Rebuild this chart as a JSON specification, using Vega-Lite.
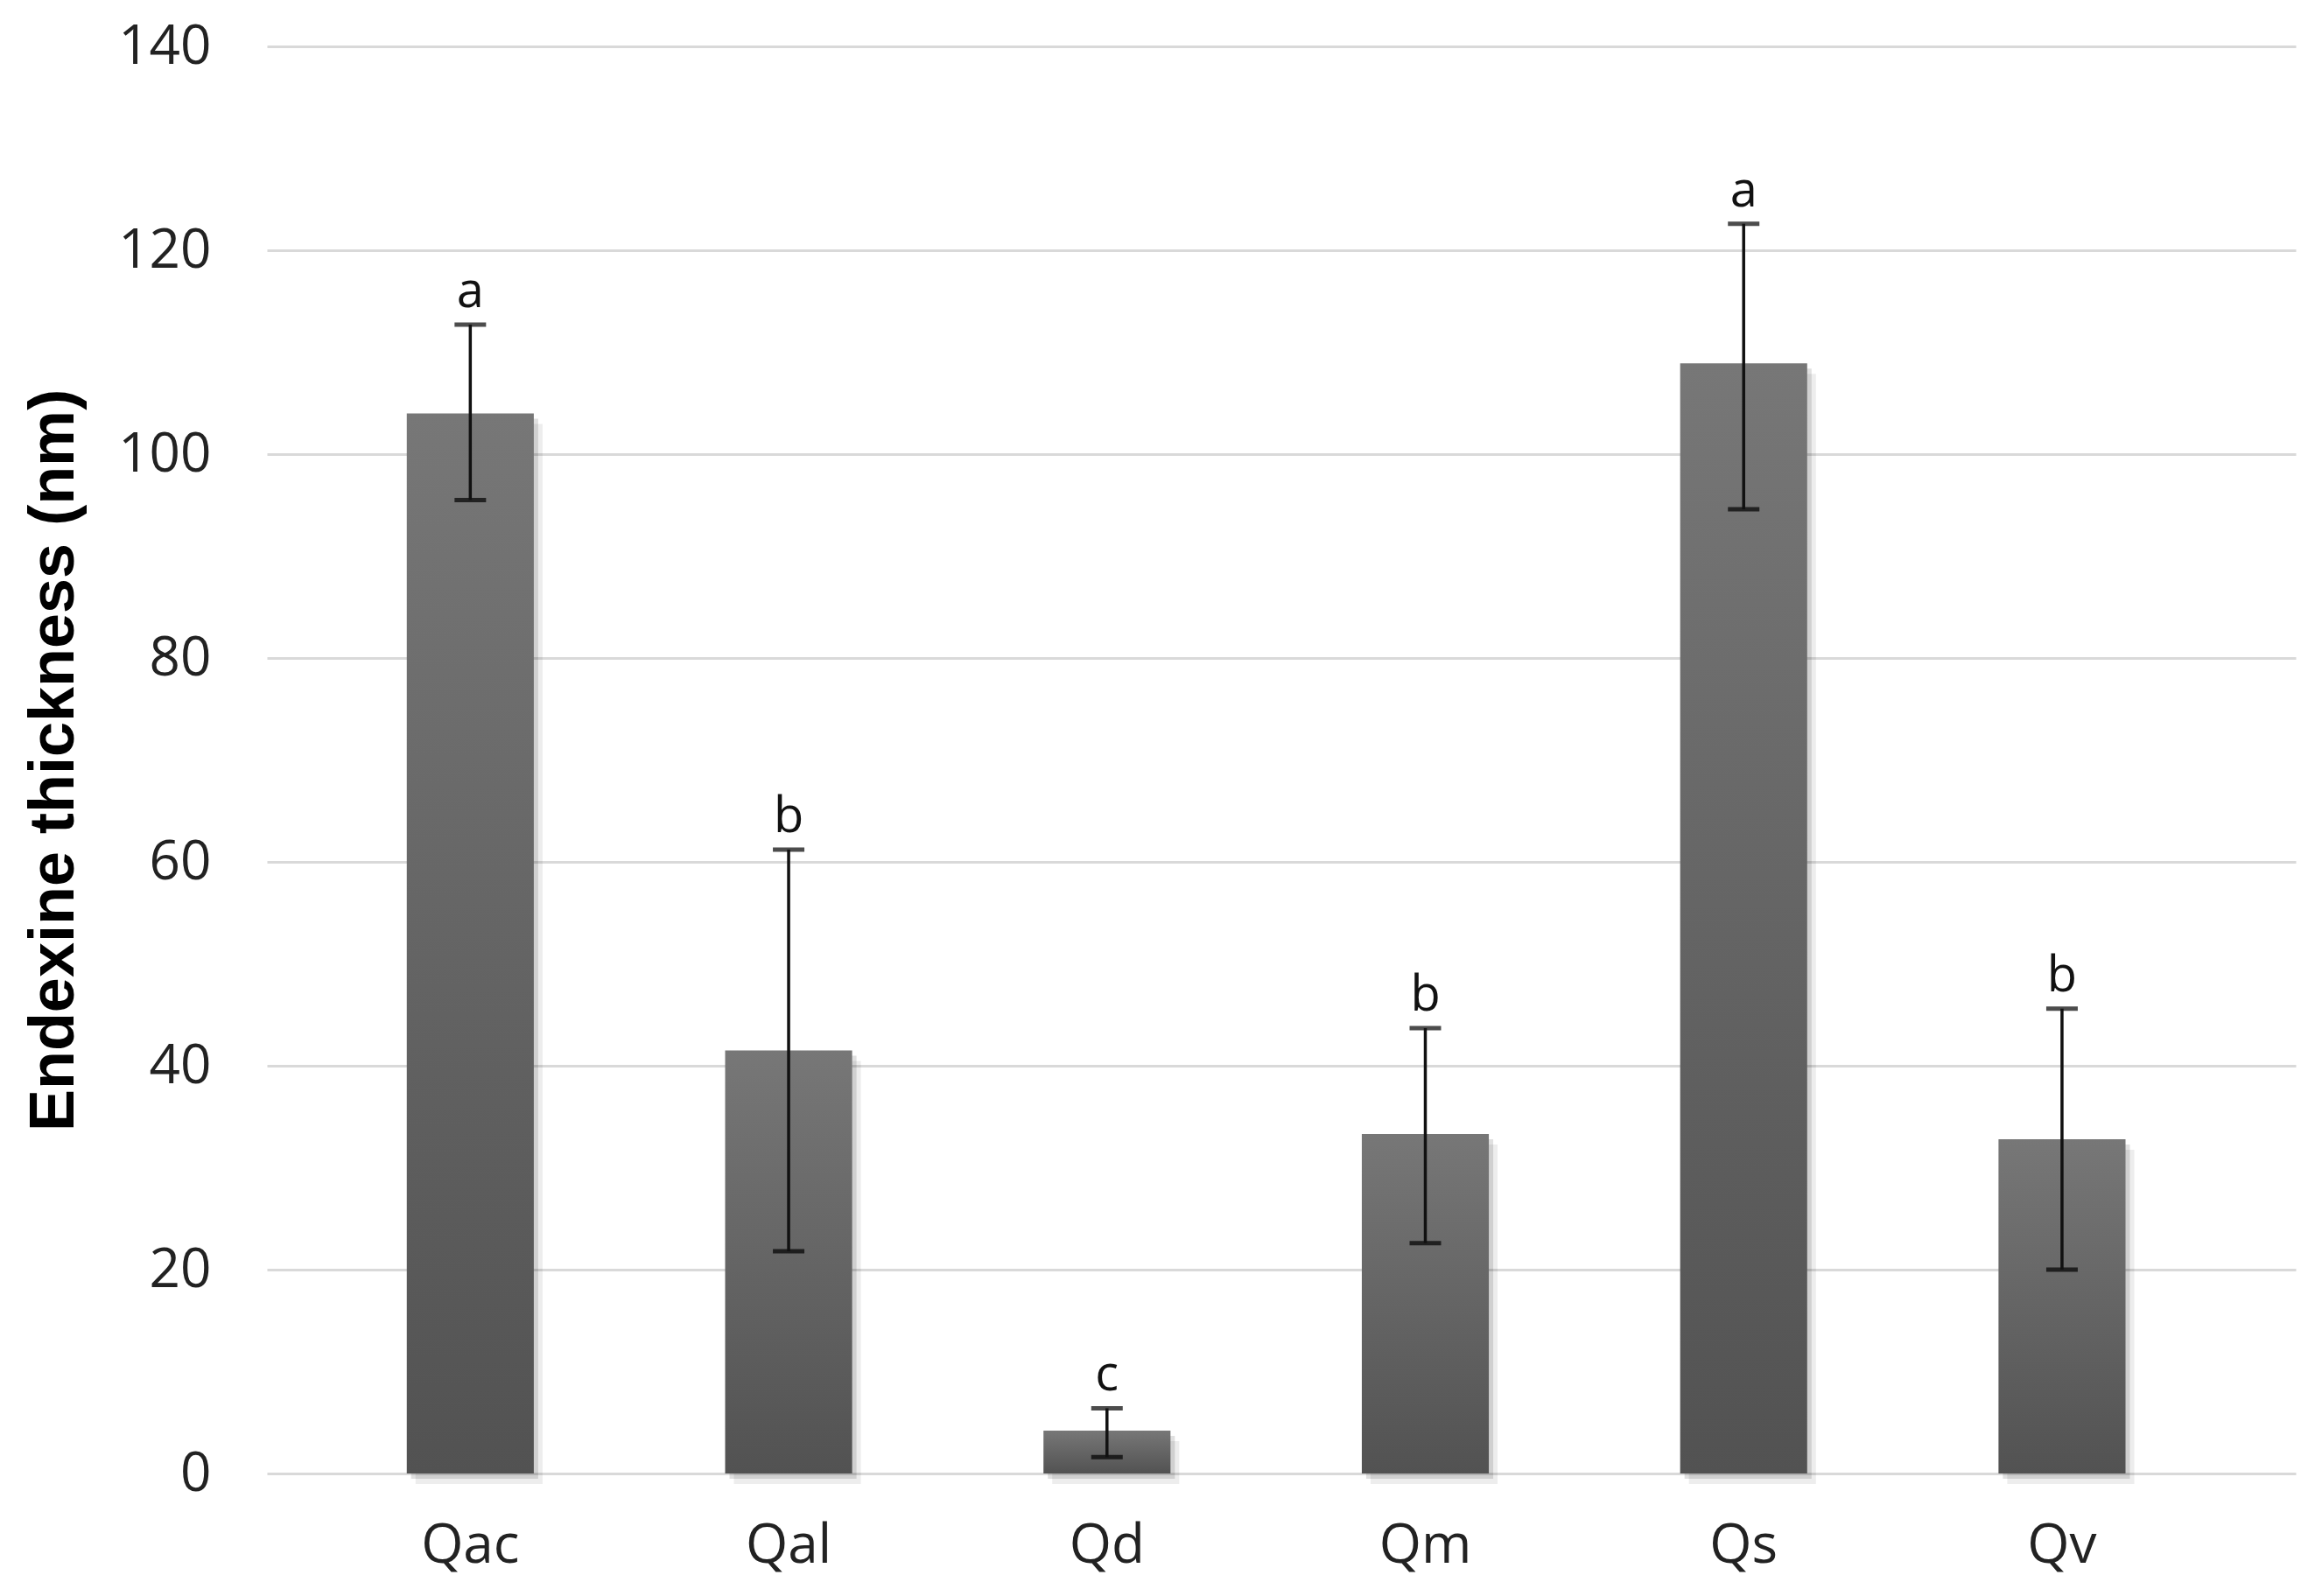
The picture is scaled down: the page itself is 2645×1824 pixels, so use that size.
{
  "$schema": "https://vega.github.io/schema/vega-lite/v6.json",
  "width": 2318,
  "height": 1631,
  "autosize": "none",
  "padding": {"left": 305, "top": 53, "right": 22, "bottom": 140},
  "background": "white",
  "config": {"view": {"stroke": null}},
  "data": {
    "values": [
      {"sp": "Qac", "mean": 104.0, "lo": 95.5, "hi": 112.7, "grp": "a"},
      {"sp": "Qal", "mean": 41.5, "lo": 21.8, "hi": 61.2, "grp": "b"},
      {"sp": "Qd", "mean": 4.2, "lo": 1.6, "hi": 6.4, "grp": "c"},
      {"sp": "Qm", "mean": 33.3, "lo": 22.6, "hi": 43.7, "grp": "b"},
      {"sp": "Qs", "mean": 108.9, "lo": 94.6, "hi": 122.6, "grp": "a"},
      {"sp": "Qv", "mean": 32.8, "lo": 20.0, "hi": 45.6, "grp": "b"}
    ]
  },
  "encoding": {
    "x": {
      "field": "sp",
      "type": "nominal",
      "sort": null,
      "scale": {"paddingInner": 0.601, "paddingOuter": 0.487, "align": 0.451},
      "axis": {
        "title": null,
        "labelAngle": 0,
        "domain": false,
        "ticks": false,
        "labelFont": "Open Sans",
        "labelFontSize": 62,
        "labelColor": "#222222",
        "labelPadding": 52
      }
    }
  },
  "layer": [
    {
      "mark": {"type": "bar", "color": "#000000", "opacity": 0.07, "xOffset": 10, "yOffset": 12},
      "encoding": {
        "y": {"field": "mean", "type": "quantitative", "title": "Endexine thickness (nm)", "scale": {"domain": [0, 140], "nice": false},
          "axis": {
            "title": "Endexine thickness (nm)",
            "titleFont": "Liberation Sans",
            "titleFontWeight": "bold",
            "titleFontSize": 72,
            "titleColor": "#000000",
            "titlePadding": 36,
            "values": [0, 20, 40, 60, 80, 100, 120, 140],
            "grid": true,
            "gridColor": "#d9d9d9",
            "gridWidth": 3,
            "domain": false,
            "ticks": false,
            "labelFont": "Open Sans",
            "labelFontSize": 62,
            "labelColor": "#222222",
            "labelPadding": 64
          }
        }
      }
    },
    {
      "mark": {"type": "bar", "color": "#000000", "opacity": 0.12, "xOffset": 5, "yOffset": 6},
      "encoding": {"y": {"field": "mean", "type": "quantitative", "title": "Endexine thickness (nm)"}}
    },
    {
      "mark": {
        "type": "bar",
        "color": {
          "gradient": "linear",
          "x1": 0, "y1": 0, "x2": 0, "y2": 1,
          "stops": [
            {"offset": 0, "color": "#777777"},
            {"offset": 1, "color": "#525252"}
          ]
        }
      },
      "encoding": {"y": {"field": "mean", "type": "quantitative", "title": "Endexine thickness (nm)"}}
    },
    {
      "mark": {
        "type": "errorbar",
        "ticks": {"size": 36, "thickness": 5, "color": "#000000"},
        "rule": {"strokeWidth": 3.5, "color": "#111111"}
      },
      "encoding": {
        "y": {"field": "lo", "type": "quantitative", "title": "Endexine thickness (nm)"},
        "y2": {"field": "hi"}
      }
    },
    {
      "mark": {"type": "text", "baseline": "bottom", "dy": -8, "font": "Open Sans", "fontSize": 56, "color": "#111111"},
      "encoding": {
        "y": {"field": "hi", "type": "quantitative", "title": "Endexine thickness (nm)"},
        "text": {"field": "grp"}
      }
    }
  ]
}
